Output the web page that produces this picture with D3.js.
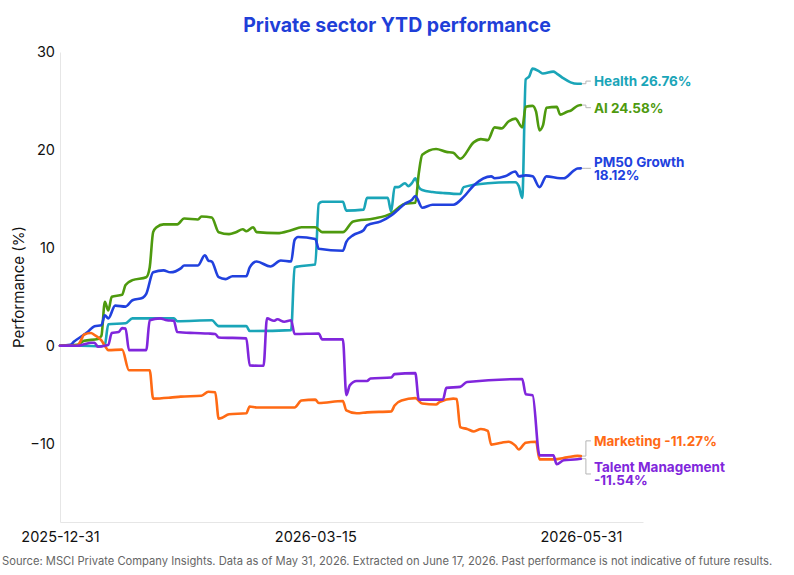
<!DOCTYPE html>
<html>
<head>
<meta charset="utf-8">
<script src="https://cdn.jsdelivr.net/npm/d3@7"></script>
<style>
  body { margin: 0; background: #fff; }
  svg { display: block; font-family: Inter, "Noto Sans", sans-serif; }
</style>
</head>
<body>
<script>
// series data (YTD performance in %)
const seriesNames = ["Health", "AI", "PM50 Growth", "Marketing", "Talent Management"];
const seriesColors = ["#1aa5b8", "#4e9a0e", "#2141de", "#ff6a14", "#8026dc"];

const healthDates = ["2025-12-31","2026-01-06","2026-01-12","2026-01-13","2026-01-14","2026-01-19","2026-01-21","2026-02-02","2026-02-03","2026-02-13","2026-02-15","2026-02-23","2026-02-24","2026-03-08","2026-03-09","2026-03-10","2026-03-15","2026-03-16","2026-03-17","2026-03-23","2026-03-24","2026-03-29","2026-03-30","2026-04-05","2026-04-06","2026-04-07","2026-04-08","2026-04-10","2026-04-11","2026-04-12","2026-04-13","2026-04-14","2026-04-15","2026-04-18","2026-04-21","2026-04-26","2026-04-27","2026-05-04","2026-05-12","2026-05-13","2026-05-14","2026-05-15","2026-05-16","2026-05-17","2026-05-19","2026-05-20","2026-05-23","2026-05-24","2026-05-26","2026-05-28","2026-05-30","2026-05-31"];
const healthValues = [0,0,-0.05,0.1,2.2,2.3,2.8,2.8,2.5,2.6,2.0,2.0,1.5,1.6,8.0,8.1,8.3,14.5,14.7,14.7,13.8,13.9,15.1,15.1,13.7,16.2,16.2,16.6,16.3,16.6,17.1,16.2,15.9,15.7,15.6,15.5,16.2,16.6,16.7,16.3,15.1,27.2,27.5,28.3,28.0,27.8,28.0,27.8,27.3,26.9,26.75,26.76];

const aiDates = ["2025-12-31","2026-01-05","2026-01-07","2026-01-11","2026-01-12","2026-01-13","2026-01-14","2026-01-15","2026-01-18","2026-01-19","2026-01-21","2026-01-25","2026-01-26","2026-01-27","2026-01-28","2026-01-30","2026-02-03","2026-02-05","2026-02-09","2026-02-10","2026-02-13","2026-02-15","2026-02-18","2026-02-20","2026-02-22","2026-02-23","2026-02-25","2026-02-26","2026-03-04","2026-03-08","2026-03-11","2026-03-15","2026-03-17","2026-03-23","2026-03-26","2026-04-01","2026-04-06","2026-04-10","2026-04-13","2026-04-14","2026-04-15","2026-04-19","2026-04-22","2026-04-24","2026-04-26","2026-04-30","2026-05-02","2026-05-04","2026-05-06","2026-05-08","2026-05-10","2026-05-12","2026-05-14","2026-05-15","2026-05-17","2026-05-18","2026-05-19","2026-05-20","2026-05-21","2026-05-24","2026-05-25","2026-05-27","2026-05-28","2026-05-30","2026-05-31"];
const aiValues = [0,0.1,0.5,0.7,1.0,4.5,3.6,5.0,5.2,6.2,6.7,7.0,8.0,11.6,12.1,12.4,12.4,13.0,12.9,13.2,13.1,11.6,11.4,11.6,11.9,11.7,12.1,11.6,11.5,11.8,12.1,12.1,11.6,11.6,12.7,13.0,13.5,14.5,14.6,17.6,19.5,20.1,19.8,19.7,19.1,20.8,21.1,21.0,22.3,22.2,22.9,23.2,22.3,24.4,24.5,23.9,22.0,22.5,24.3,24.4,23.6,23.9,24.0,24.5,24.58];

const pm50Dates = ["2025-12-31","2026-01-03","2026-01-04","2026-01-08","2026-01-10","2026-01-12","2026-01-13","2026-01-14","2026-01-16","2026-01-19","2026-01-21","2026-01-24","2026-01-25","2026-01-27","2026-01-30","2026-02-01","2026-02-04","2026-02-05","2026-02-09","2026-02-11","2026-02-12","2026-02-13","2026-02-15","2026-02-17","2026-02-19","2026-02-23","2026-02-24","2026-02-26","2026-03-02","2026-03-05","2026-03-08","2026-03-09","2026-03-10","2026-03-15","2026-03-16","2026-03-23","2026-03-24","2026-03-26","2026-03-29","2026-03-30","2026-04-03","2026-04-06","2026-04-08","2026-04-10","2026-04-12","2026-04-13","2026-04-15","2026-04-18","2026-04-24","2026-04-27","2026-04-30","2026-05-05","2026-05-06","2026-05-09","2026-05-12","2026-05-13","2026-05-15","2026-05-17","2026-05-19","2026-05-21","2026-05-25","2026-05-26","2026-05-29","2026-05-30","2026-05-31"];
const pm50Values = [0,0.1,0.4,1.4,2.0,2.1,3.1,2.8,4.1,4.0,4.65,4.9,5.3,7.5,7.7,7.5,7.9,8.2,8.2,9.25,8.7,8.6,7.0,6.8,7.1,7.1,8.0,8.6,8.1,8.7,8.6,10.8,11.1,10.9,9.9,9.7,10.6,11.3,11.8,12.3,12.7,13.3,13.9,14.5,14.9,15.3,14.1,14.4,14.4,15.2,16.4,17.3,17.1,17.3,17.8,17.3,17.4,17.3,16.2,17.3,17.1,17.1,17.9,18.1,18.12];

const marketingDates = ["2025-12-31","2026-01-05","2026-01-06","2026-01-07","2026-01-09","2026-01-10","2026-01-12","2026-01-13","2026-01-14","2026-01-18","2026-01-20","2026-01-26","2026-01-27","2026-02-01","2026-02-04","2026-02-10","2026-02-12","2026-02-14","2026-02-15","2026-02-16","2026-02-18","2026-02-23","2026-02-24","2026-02-26","2026-03-09","2026-03-11","2026-03-15","2026-03-16","2026-03-23","2026-03-24","2026-03-27","2026-03-30","2026-04-06","2026-04-07","2026-04-09","2026-04-13","2026-04-15","2026-04-19","2026-04-20","2026-04-24","2026-04-25","2026-04-26","2026-04-28","2026-04-30","2026-05-02","2026-05-04","2026-05-05","2026-05-08","2026-05-10","2026-05-12","2026-05-13","2026-05-15","2026-05-18","2026-05-19","2026-05-23","2026-05-27","2026-05-30","2026-05-31"];
const marketingValues = [0,0,0.5,1.15,1.3,1.1,0.55,0,-0.45,-0.4,-2.5,-2.5,-5.4,-5.3,-5.2,-5.1,-4.7,-4.75,-7.45,-7.35,-7.0,-6.9,-6.2,-6.3,-6.3,-5.6,-5.5,-5.85,-5.65,-6.6,-6.9,-6.8,-6.7,-6.1,-5.6,-5.35,-5.9,-6.0,-5.75,-5.4,-5.45,-8.3,-8.5,-8.75,-8.5,-8.7,-10.1,-9.9,-9.8,-10.2,-10.6,-9.9,-9.8,-11.6,-11.6,-11.4,-11.25,-11.27];

const talentDates = ["2025-12-31","2026-01-05","2026-01-07","2026-01-09","2026-01-10","2026-01-11","2026-01-13","2026-01-14","2026-01-15","2026-01-17","2026-01-18","2026-01-19","2026-01-20","2026-01-25","2026-01-26","2026-01-29","2026-01-31","2026-02-02","2026-02-03","2026-02-08","2026-02-12","2026-02-14","2026-02-15","2026-02-23","2026-02-24","2026-02-28","2026-03-01","2026-03-03","2026-03-04","2026-03-06","2026-03-08","2026-03-09","2026-03-16","2026-03-17","2026-03-23","2026-03-24","2026-03-25","2026-03-27","2026-03-30","2026-03-31","2026-04-06","2026-04-07","2026-04-13","2026-04-14","2026-04-21","2026-04-22","2026-04-26","2026-04-28","2026-05-14","2026-05-15","2026-05-17","2026-05-19","2026-05-23","2026-05-24","2026-05-26","2026-05-30","2026-05-31"];
const talentValues = [0,0,0.15,0.3,0.3,-0.1,0,0.1,1.3,1.4,1.8,1.75,-0.45,-0.45,2.6,2.8,2.6,2.55,1.4,1.3,1.25,1.2,0.85,0.75,-2.0,-2.05,2.8,2.55,2.7,2.45,2.6,1.2,1.25,0.65,0.65,-5.05,-4.05,-3.6,-3.6,-3.35,-3.25,-2.9,-2.8,-5.5,-5.5,-4.3,-4.2,-3.7,-3.4,-4.95,-5.05,-11.2,-11.2,-12.1,-11.7,-11.6,-11.54];

const xTickLabels = ["2025-12-31", "2026-03-15", "2026-05-31"];
const yTickValues = [-10, 0, 10, 20, 30];

const w = 794;
const h = 575;
const margin = {top: 52, right: 151, bottom: 53, left: 60};

const parse = d3.timeParse("%Y-%m-%d");

const series = [
  {name: seriesNames[0], color: seriesColors[0], dates: healthDates, values: healthValues},
  {name: seriesNames[1], color: seriesColors[1], dates: aiDates, values: aiValues},
  {name: seriesNames[2], color: seriesColors[2], dates: pm50Dates, values: pm50Values},
  {name: seriesNames[3], color: seriesColors[3], dates: marketingDates, values: marketingValues},
  {name: seriesNames[4], color: seriesColors[4], dates: talentDates, values: talentValues}
].map(s => ({...s, points: s.dates.map((d, i) => ({date: parse(d), value: s.values[i]}))}));

const svg = d3.select("body")
              .append("svg")
              .attr("width", w)
              .attr("height", h);

const xScale = d3.scaleTime([parse("2025-12-31"), parse("2026-06-18")], [margin.left, w - margin.right]);
const yScale = d3.scaleLinear([-18, 30], [h - margin.bottom, margin.top]);

// title
svg.append("text")
   .attr("x", w / 2)
   .attr("y", 32)
   .attr("text-anchor", "middle")
   .attr("font-size", 19.5)
   .attr("font-weight", 700)
   .attr("fill", "#1f3fd8")
   .text("Private sector YTD performance");

// axes
const xAxis = d3.axisBottom(xScale)
                .tickValues(xTickLabels.map(parse))
                .tickSize(0)
                .tickPadding(10)
                .tickFormat(d3.timeFormat("%Y-%m-%d"));
const yAxis = d3.axisLeft(yScale)
                .tickValues(yTickValues)
                .tickSize(0)
                .tickPadding(5);

const gx = svg.append("g")
              .attr("transform", `translate(0, ${h - margin.bottom})`)
              .call(xAxis);
const gy = svg.append("g")
              .attr("transform", `translate(${margin.left}, 0)`)
              .call(yAxis);

[gx, gy].forEach(g => {
  g.select(".domain").attr("stroke", "#e6e6e6");
  g.selectAll("text")
   .attr("font-family", "Inter, sans-serif")
   .attr("font-size", 14.5)
   .attr("fill", "#111");
});

svg.append("text")
   .attr("transform", `translate(18, ${(margin.top + h - margin.bottom) / 2}) rotate(-90)`)
   .attr("text-anchor", "middle")
   .attr("dominant-baseline", "central")
   .attr("font-size", 15)
   .attr("fill", "#111")
   .text("Performance (%)");

// lines
const line = d3.line()
               .x(d => xScale(d.date))
               .y(d => yScale(d.value))
               .curve(d3.curveMonotoneX);

svg.append("g")
   .selectAll("path")
   .data(series)
   .enter()
   .append("path")
   .attr("d", d => line(d.points))
   .attr("fill", "none")
   .attr("stroke", d => d.color)
   .attr("stroke-width", 2.6)
   .attr("stroke-linejoin", "round")
   .attr("stroke-linecap", "round");

// end labels, nudged apart so they don't overlap
const lineH = 13;
const gap = 13.6;
const labelG = svg.append("g");
const labels = series.map(s => {
  const last = s.points[s.points.length - 1];
  return {s, x: xScale(last.date), y0: yScale(last.value), text: `${s.name} ${last.value.toFixed(2)}%`, value: last.value};
});

const measure = svg.append("text").attr("font-size", 13.5).attr("font-weight", 700);
labels.forEach(l => {
  measure.text(l.text);
  l.lines = measure.node().getComputedTextLength() > 132
    ? [l.s.name, `${l.value.toFixed(2)}%`]
    : [l.text];
  l.height = l.lines.length * lineH;
  l.y = l.y0;
});
measure.remove();

labels.sort((a, b) => a.y0 - b.y0);
for (let iter = 0; iter < 20; iter++) {
  for (let i = 1; i < labels.length; i++) {
    const a = labels[i - 1], b = labels[i];
    const need = (a.height + b.height) / 2 + gap;
    const overlap = need - (b.y - a.y);
    if (overlap > 0) {
      a.y -= overlap / 2;
      b.y += overlap / 2;
    }
  }
}

labels.forEach(l => {
  labelG.append("path")
        .attr("d", `M${l.x + 1},${l.y0}H${l.x + 5}V${l.y}H${l.x + 10}`)
        .attr("fill", "none")
        .attr("stroke", "#b5b5b5")
        .attr("stroke-width", 1);
  const top = l.y - (l.lines.length - 1) * lineH / 2;
  const t = labelG.append("text")
                  .attr("font-size", 13.5)
                  .attr("font-weight", 700)
                  .attr("fill", l.s.color);
  l.lines.forEach((txt, i) => {
    t.append("tspan")
     .attr("x", l.x + 13)
     .attr("y", top + i * lineH)
     .attr("dy", "0.36em")
     .text(txt);
  });
});

// footnote
svg.append("text")
   .attr("x", 2)
   .attr("y", 565)
   .attr("font-size", 11.2)
   .attr("fill", "#666")
   .text("Source: MSCI Private Company Insights. Data as of May 31, 2026. Extracted on June 17, 2026. Past performance is not indicative of future results.");
</script>
</body>
</html>
